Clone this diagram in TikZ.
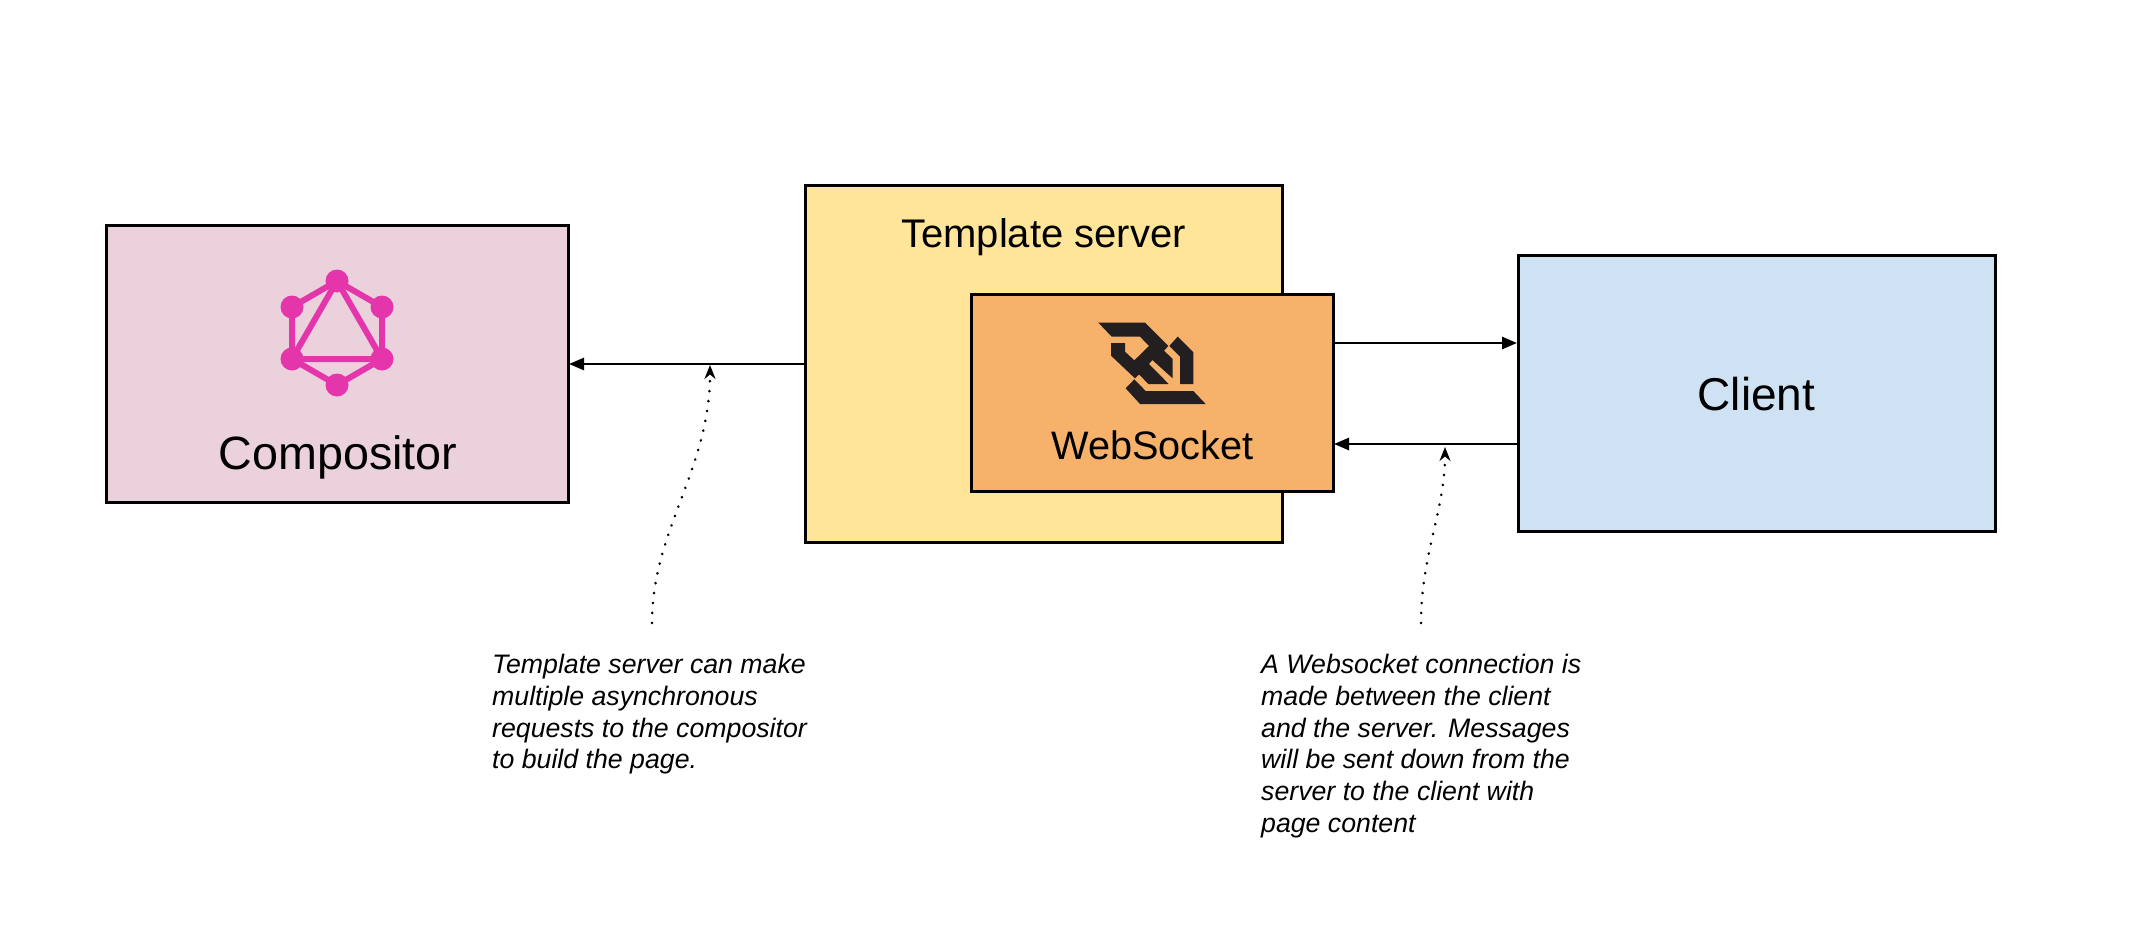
\documentclass[tikz,border=0pt]{standalone}
\usepackage{fontspec}
\setmainfont{Liberation Sans}
\usetikzlibrary{arrows.meta}
\definecolor{compfill}{HTML}{EAD1DC}
\definecolor{tmplfill}{HTML}{FFE599}
\definecolor{wsfill}{HTML}{F6B26B}
\definecolor{clientfill}{HTML}{CFE2F3}
\definecolor{gql}{HTML}{E535AB}
\definecolor{wsdark}{HTML}{231F20}
\tikzset{
  x=1pt,y=-1pt,
  boxnode/.style={draw=black,line width=3pt,rectangle,inner sep=0pt,anchor=north west},
  flow/.style={draw=black,line width=2.7pt,-{Triangle[length=15pt,width=12pt]}},
  note/.style={draw=black,line width=2.8pt,line cap=round,dash pattern=on 0.1pt off 9.9pt,-{Stealth[length=14pt,width=11pt]}},
  notetext/.style={anchor=north west,inner sep=0pt,align=left,font=\fontsize{26.7}{31.8}\selectfont\itshape},
  gqlline/.style={draw=gql,line width=6pt},
  gqldot/.style={circle,fill=gql,inner sep=0pt,minimum size=23pt}
}
\begin{document}
\begin{tikzpicture}
\useasboundingbox (0,0) rectangle (2134,934);
\fill[white] (0,0) rectangle (2134,934);
\node[boxnode,fill=compfill,minimum width=462pt,minimum height=277pt] (comp) at (105,224) {};
\node[boxnode,fill=tmplfill,minimum width=477pt,minimum height=357pt] (tmpl) at (804,184) {};
\node[boxnode,fill=wsfill,minimum width=362pt,minimum height=197pt] (ws) at (970,293) {};
\node[boxnode,fill=clientfill,minimum width=477pt,minimum height=276pt] (client) at (1516.5,254) {};
\node[font=\fontsize{46.7}{50}\selectfont] (complabel) at (338,457) {Compositor};
\node[font=\fontsize{40}{42}\selectfont] (tmpllabel) at (1043.5,237) {Template server};
\node[font=\fontsize{39.7}{44}\selectfont] (wslabel) at (1152.5,445.5) {WebSocket};
\node[font=\fontsize{46}{50}\selectfont] (clientlabel) at (1756.5,394) {Client};
% GraphQL logo
\node[gqldot] (g1) at (337,281) {};
\node[gqldot] (g2) at (382,307) {};
\node[gqldot] (g3) at (382,359) {};
\node[gqldot] (g4) at (337,385) {};
\node[gqldot] (g5) at (292,359) {};
\node[gqldot] (g6) at (292,307) {};
\draw[gqlline] (g1.center)--(g2.center)--(g3.center)--(g4.center)--(g5.center)--(g6.center)--cycle;
\draw[gqlline] (g1.center)--(g3.center)--(g5.center)--cycle;
% WebSocket logo
\begin{scope}[shift={(1090,315)},x=0.33333pt,y=-0.33333pt]
\fill[wsdark] (25,23)--(165,23)--(235,93)--(222,107)--(248,132)--(248,190)--(187,135)--(177,147)--(236,207)--(175,207)--(147,178)--(135,190)--(63,122)--(63,84)--(105,84)--(105,110)--(133,136)--(177,93)--(150,65)--(65,65)--cycle;
\fill[wsdark] (263,65)--(310,112)--(310,207)--(270,207)--(270,125)--(238,93)--cycle;
\fill[wsdark] (133,193)--(167,228)--(310,228)--(347,267)--(150,267)--(107,220)--cycle;
\end{scope}
% connectors
\coordinate (c1) at (804,364);
\coordinate (c2) at (569,364);
\draw[flow] (c1) -- (c2);
\coordinate (c3) at (1332,343);
\coordinate (c4) at (1517,343);
\draw[flow] (c3) -- (c4);
\coordinate (c5) at (1517,444);
\coordinate (c6) at (1334,444);
\draw[flow] (c5) -- (c6);
\coordinate (n1s) at (652,623);
\coordinate (n1e) at (710,365);
\draw[note] (n1s) .. controls (652,530) and (710,470) .. (n1e);
\coordinate (n2s) at (1421,623);
\coordinate (n2e) at (1445,447);
\draw[note] (n2s) .. controls (1421,555) and (1445,510) .. (n2e);
\node[notetext] (t1) at (492,654) {Template server can make\\multiple asynchronous\\requests to the compositor\\to build the page.};
\node[notetext] (t2) at (1261,654) {A Websocket connection is\\made between the client\\and the server. Messages\\will be sent down from the\\server to the client with\\page content};
\end{tikzpicture}
\end{document}
